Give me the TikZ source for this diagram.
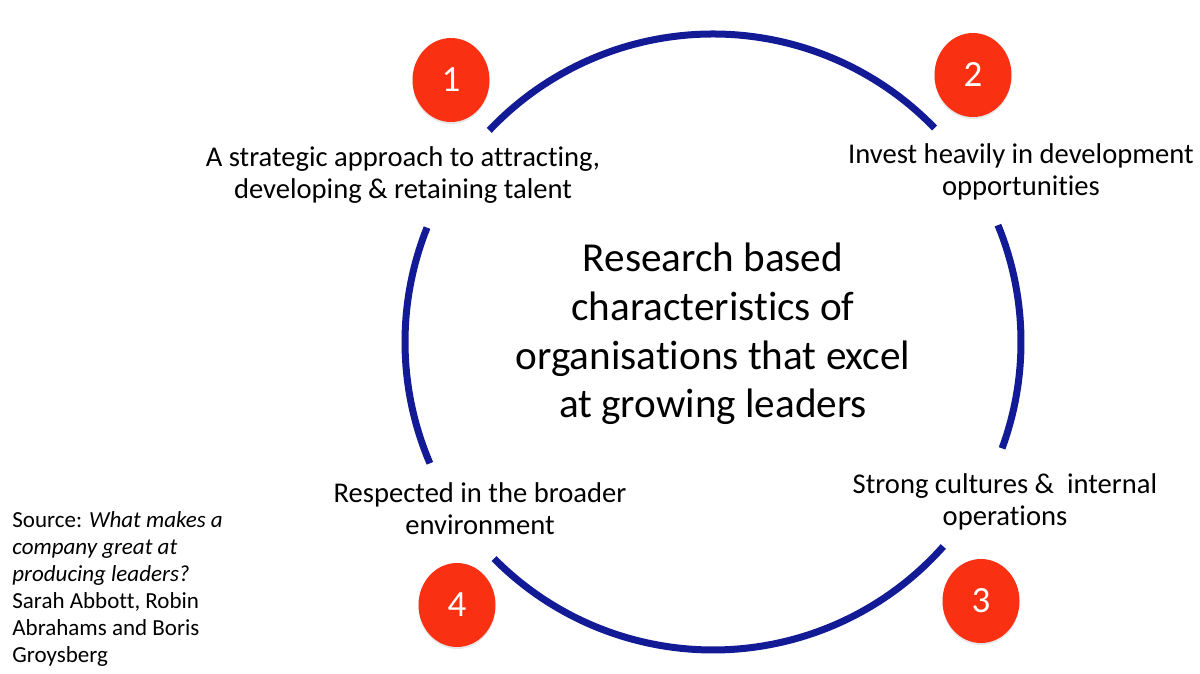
\documentclass[tikz,border=0pt]{standalone}
\usepackage{fontspec}
\setmainfont{Carlito}[Ligatures=NoCommon]
\usetikzlibrary{shapes.geometric,shadows}
\definecolor{ringblue}{RGB}{18,26,150}
\definecolor{badgered}{RGB}{250,48,18}
\tikzset{
  x = 0.5pt, y = 0.5pt,
  ring/.style = {draw=ringblue, line width=3.5pt},
  badge/.style = {ellipse, fill=badgered, text=white, inner sep=0pt,
    minimum width=38.5pt, minimum height=42pt,
    drop shadow={opacity=0.2, shadow xshift=0pt, shadow yshift=-1pt},
    font=\fontsize{18.5}{20}\selectfont},
  point/.style = {align=center, font=\fontsize{14.3}{16}\selectfont},
}

\begin{document}
\begin{tikzpicture}

  %% define coordinates
  \useasboundingbox (0,0) rectangle (1200,674);
  \coordinate (centre) at (713,332);

  % draw ring, broken where the labels sit
  \foreach \a/\b in {44/136.6, 158.2/203.2, 224.7/318.4, -20.2/22.3}
    \draw[ring] ([shift={(\a:154pt)}]centre) arc (\a:\b:154pt);

  % draw numbered badges
  \node[badge] (n1) at (451,594) {1};
  \node[badge] (n2) at (973,599) {2};
  \node[badge] (n3) at (981,73) {3};
  \node[badge] (n4) at (457,69) {4};

  % draw labels
  \node[point] (l1) at (403,499) {A strategic approach to attracting,\\developing \& retaining talent};
  \node[point] (l2) at (1021,502) {Invest heavily in development\\opportunities};
  \node[point] (l3) at (1005,172) {Strong cultures \&\ \ internal\\operations};
  \node[point] (l4) at (480,165) {Respected in the broader\\environment};

  % draw centre text
  \node[align=center, font=\fontsize{20.6}{24.4}\selectfont] (title) at (713,340)
    {Research based\\characteristics of\\organisations that excel\\at growing leaders};

  % draw source
  \node[anchor=west, align=left, inner sep=0pt, font=\fontsize{11.5}{13.5}\selectfont] (source) at (12,85)
    {Source: \textit{What makes a}\\\textit{company great at}\\\textit{producing leaders?}\\Sarah Abbott, Robin\\Abrahams and Boris\\Groysberg};
\end{tikzpicture}
\end{document}
